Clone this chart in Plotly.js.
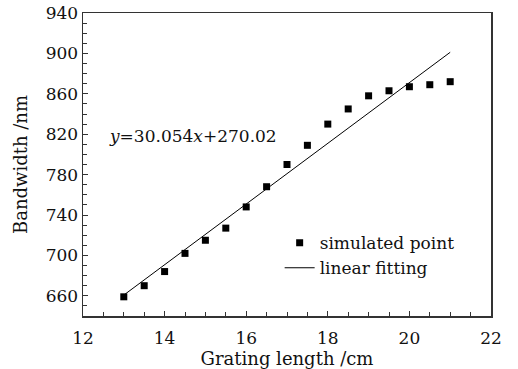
<!DOCTYPE html>
<html>
<head>
<meta charset="utf-8">
<script src="https://cdn.plot.ly/plotly-3.0.1.min.js"></script>
<style>html,body{margin:0;padding:0;background:#fff;}#chart{width:518px;height:369px;}</style>
</head>
<body>
<div id="chart"></div>
<script>
const gratingLength = [13, 13.5, 14, 14.5, 15, 15.5, 16, 16.5, 17, 17.5, 18, 18.5, 19, 19.5, 20, 20.5, 21];
const bandwidth = [659, 670, 684, 702, 715, 727, 748, 768, 790, 809, 830, 845, 858, 863, 867, 869, 872];
const fitX = [13, 21];
const fitY = [660.7, 901.1];
const fitLabel = '<i>y</i>=30.054<i>x</i>+270.02';
const seriesNames = ['simulated point', 'linear fitting'];

const F = 'DejaVu Serif';
const axisCommon = {
  showline: true, mirror: true, linecolor: '#333', linewidth: 1.5,
  ticks: 'inside', ticklen: 5, tickwidth: 1, tickcolor: '#333',
  showgrid: false, zeroline: false,
  tickfont: {family: F, size: 17, color: '#111'}
};
const traces = [
  {x: gratingLength, y: bandwidth, mode: 'markers', type: 'scatter', name: seriesNames[0],
   marker: {symbol: 'square', size: 7, color: '#000'}},
  {x: fitX, y: fitY, mode: 'lines', type: 'scatter', name: seriesNames[1],
   line: {color: '#000', width: 1}}
];
const layout = {
  width: 518, height: 369,
  margin: {l: 83, r: 27, t: 13, b: 53, pad: 0},
  paper_bgcolor: '#fff', plot_bgcolor: '#fff',
  font: {family: F, size: 17, color: '#111'},
  xaxis: Object.assign({}, axisCommon, {
    range: [12, 22], dtick: 2, tick0: 12, ticklabelstandoff: 6,
    minor: {dtick: 0.5, ticks: 'inside', ticklen: 4, tickcolor: '#333', showgrid: false},
    title: {text: 'Grating length /cm', font: {family: F, size: 18, color: '#111'}, standoff: 5}
  }),
  yaxis: Object.assign({}, axisCommon, {
    range: [640, 940], dtick: 40, tick0: 660,
    minor: {dtick: 10, ticks: 'inside', ticklen: 4, tickcolor: '#333', showgrid: false},
    title: {text: 'Bandwidth /nm', font: {family: F, size: 18, color: '#111'}, standoff: 13}
  }),
  showlegend: true,
  legend: {x: 0.482, y: 0.3, xanchor: 'left', yanchor: 'top', bgcolor: 'rgba(0,0,0,0)',
           font: {family: F, size: 17, color: '#111'}, tracegroupgap: 0},
  annotations: [{x: 12.6, y: 818, xref: 'x', yref: 'y', xanchor: 'left', yanchor: 'middle',
    text: fitLabel, showarrow: false, font: {family: F, size: 17, color: '#111'}}]
};
Plotly.newPlot('chart', traces, layout, {displayModeBar: false, staticPlot: true});
</script>
</body>
</html>
